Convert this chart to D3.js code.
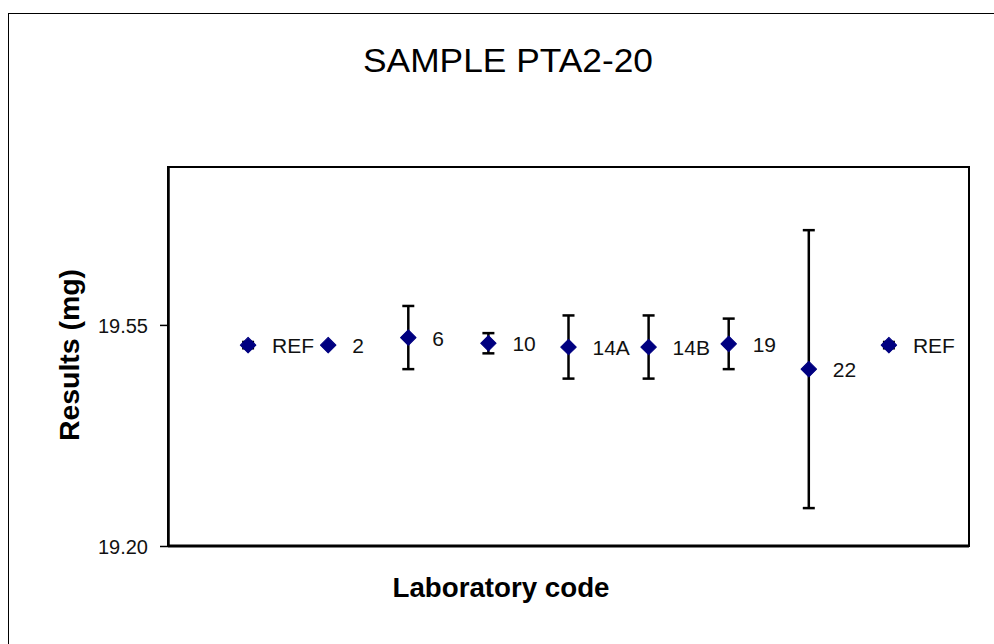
<!DOCTYPE html>
<html>
<head>
<meta charset="utf-8">
<script src="https://cdn.jsdelivr.net/npm/d3@7"></script>
<style>
  html, body { margin: 0; padding: 0; background: #fff; }
  svg { display: block; }
  text { font-family: "Liberation Sans", Arial, sans-serif; }
</style>
</head>
<body>
<script>
const categories = ["REF", "2", "6", "10", "14A", "14B", "19", "22", "REF"];
const values = [19.518, 19.518, 19.530, 19.521, 19.515, 19.515, 19.520, 19.480, 19.518];
const errors = [0.005, 0, 0.05, 0.016, 0.05, 0.05, 0.04, 0.22, 0.005];
const yTicks = [19.20, 19.55];
const yDomain = [19.20, 19.80];
const title = "SAMPLE PTA2-20";
const xTitle = "Laboratory  code";
const yTitle = "Results (mg)";

const W = 994, H = 644;
const plot = { left: 168, right: 969, top: 167, bottom: 546 };

const svg = d3.select("body").append("svg").attr("width", W).attr("height", H);

// outer chart border (top and left visible)
svg.append("rect")
  .attr("x", 8.5).attr("y", 13.5).attr("width", 1100).attr("height", 800)
  .attr("fill", "#fff").attr("stroke", "#000").attr("stroke-width", 1);

const x = d3.scaleLinear().domain([0, categories.length + 1]).range([plot.left, plot.right]);
const y = d3.scaleLinear().domain(yDomain).range([plot.bottom, plot.top]);

// plot frame
svg.append("rect")
  .attr("x", plot.left).attr("y", plot.top)
  .attr("width", plot.right - plot.left).attr("height", plot.bottom - plot.top)
  .attr("fill", "none").attr("stroke", "#000").attr("stroke-width", 2);

// y axis
const yAxis = d3.axisLeft(y).tickValues(yTicks).tickFormat(d3.format(".2f"))
  .tickSizeInner(8).tickSizeOuter(0).tickPadding(12);
const ga = svg.append("g").attr("transform", `translate(${plot.left},0)`).call(yAxis);
ga.select(".domain").attr("stroke", "#000").attr("stroke-width", 2.5);
ga.selectAll(".tick line").attr("stroke", "#000").attr("stroke-width", 1.5);
ga.selectAll(".tick text")
  .attr("font-size", 20).attr("fill", "#111")
  .attr("font-family", "Liberation Sans, Arial, sans-serif")
  .attr("dy", "0.36em");

// bottom axis line (thicker)
svg.append("line")
  .attr("x1", plot.left).attr("x2", plot.right)
  .attr("y1", plot.bottom).attr("y2", plot.bottom)
  .attr("stroke", "#000").attr("stroke-width", 3);

const data = categories.map((c, i) => ({ c, i: i + 1, v: values[i], e: errors[i] }));

// error bars
const eb = svg.append("g").selectAll("g").data(data.filter(d => d.e > 0)).join("g");
eb.append("line")
  .attr("x1", d => x(d.i)).attr("x2", d => x(d.i))
  .attr("y1", d => y(d.v + d.e)).attr("y2", d => y(d.v - d.e))
  .attr("stroke", "#000").attr("stroke-width", 2.5);
eb.selectAll("line.cap").data(d => [[d.i, d.v + d.e], [d.i, d.v - d.e]]).join("line")
  .attr("class", "cap")
  .attr("x1", d => x(d[0]) - 6).attr("x2", d => x(d[0]) + 6)
  .attr("y1", d => y(d[1])).attr("y2", d => y(d[1]))
  .attr("stroke", "#000").attr("stroke-width", 2.5);

// markers
const diamond = d3.symbol().type(d3.symbolSquare).size(120);
svg.append("g").selectAll("path").data(data).join("path")
  .attr("d", diamond)
  .attr("transform", d => `translate(${x(d.i)},${y(d.v)}) rotate(45)`)
  .attr("fill", "#000080")
  .attr("stroke", "#000080").attr("stroke-width", 1).attr("stroke-linejoin", "round");

// data labels
svg.append("g").selectAll("text").data(data).join("text")
  .attr("x", d => x(d.i) + 24)
  .attr("y", d => y(d.v) + 8)
  .attr("font-size", 21).attr("fill", "#111")
  .text(d => d.c);

// title
svg.append("text")
  .attr("x", 508).attr("y", 72)
  .attr("text-anchor", "middle")
  .attr("font-size", 33)
  .attr("textLength", 290).attr("lengthAdjust", "spacingAndGlyphs")
  .attr("fill", "#000")
  .text(title);

// x title
svg.append("text")
  .attr("x", 501).attr("y", 597)
  .attr("text-anchor", "middle")
  .attr("font-size", 28).attr("font-weight", "bold")
  .attr("textLength", 217).attr("lengthAdjust", "spacingAndGlyphs")
  .attr("fill", "#000")
  .text(xTitle);

// y title
svg.append("text")
  .attr("transform", "translate(79,355) rotate(-90)")
  .attr("text-anchor", "middle")
  .attr("font-size", 28).attr("font-weight", "bold")
  .attr("textLength", 172).attr("lengthAdjust", "spacingAndGlyphs")
  .attr("fill", "#000")
  .text(yTitle);
</script>
</body>
</html>
